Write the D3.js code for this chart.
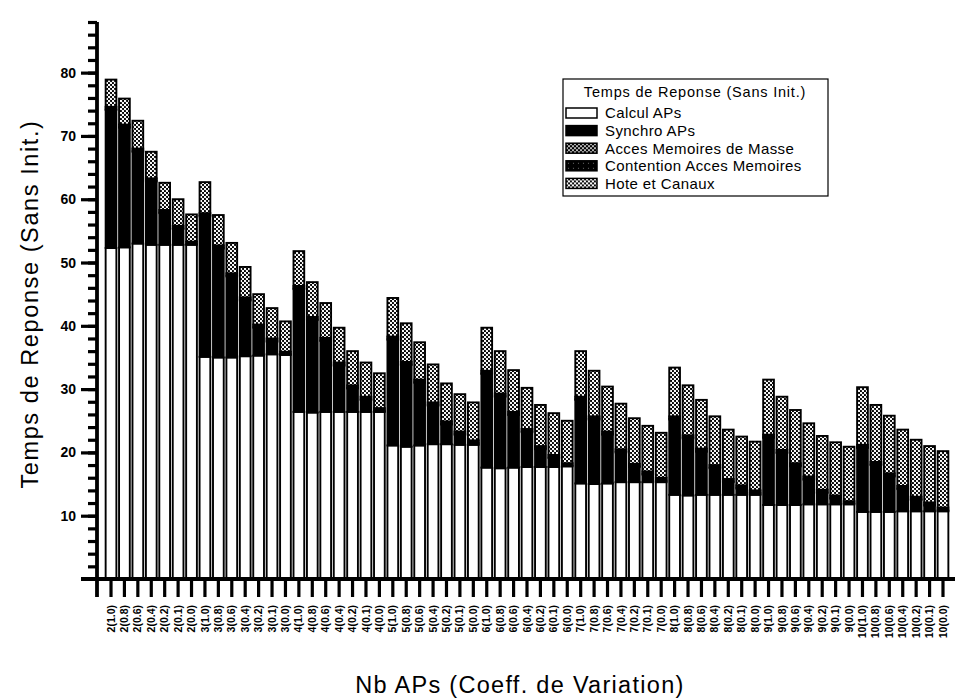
<!DOCTYPE html>
<html>
<head>
    <script src="https://d3js.org/d3.v7.min.js"></script>
    <style>
        body { margin: 0; background: #fff; }
        svg { font-family: "Liberation Sans", Arial, Helvetica, sans-serif; }
        .axis path, .axis line { stroke: #000; stroke-width: 3.2px; }
        .axis text { fill: #000; }
        .y-axis text { font-size: 14px; font-weight: bold; }
        .x-axis text { font-size: 10.5px; font-weight: bold; }
        .seg { stroke: #000; stroke-width: 1.9px; }
        .legend text { font-size: 15px; fill: #000; letter-spacing: 0.4px; }
        .title { font-size: 23.5px; fill: #000; letter-spacing: 1.3px; }
    </style>
</head>
<body>
    <svg width="958" height="700"></svg>
    <script>
        var nbAPs = [2, 3, 4, 5, 6, 7, 8, 9, 10];
        var coeffs = ["1.0", "0.8", "0.6", "0.4", "0.2", "0.1", "0.0"];

        var seriesNames = ["Calcul APs", "Synchro APs", "Acces Memoires de Masse",
                           "Contention Acces Memoires", "Hote et Canaux"];

        // one value per bar, 2(1.0) ... 10(0.0)
        var calcul = [
            52.3, 52.4, 53.0, 52.8, 52.8, 52.8, 52.8,
            35.1, 35.0, 35.0, 35.2, 35.3, 35.5, 35.4,
            26.4, 26.3, 26.4, 26.4, 26.4, 26.4, 26.4,
            21.1, 20.9, 21.1, 21.3, 21.3, 21.2, 21.2,
            17.6, 17.5, 17.6, 17.7, 17.7, 17.7, 17.8,
            15.1, 15.0, 15.1, 15.3, 15.3, 15.3, 15.3,
            13.3, 13.2, 13.3, 13.3, 13.3, 13.3, 13.3,
            11.7, 11.7, 11.7, 11.8, 11.8, 11.8, 11.8,
            10.6, 10.6, 10.6, 10.7, 10.7, 10.7, 10.7
        ];
        var synchro = [
            21.8, 18.9, 14.5, 10.0, 5.0, 2.5, 0.0,
            22.2, 17.2, 12.8, 8.8, 4.4, 2.0, 0.0,
            19.4, 14.6, 11.2, 7.3, 3.7, 1.9, 0.1,
            16.7, 12.9, 9.9, 6.1, 3.1, 1.6, 0.2,
            14.8, 11.3, 8.3, 5.5, 2.8, 1.4, 0.0,
            13.2, 10.2, 7.7, 4.7, 2.4, 1.2, 0.2,
            11.9, 9.0, 6.8, 4.2, 2.0, 1.0, 0.2,
            10.6, 8.2, 6.1, 3.9, 1.8, 0.9, 0.0,
            10.1, 7.4, 5.6, 3.5, 1.8, 0.9, 0.1
        ];
        var masse = [
            0.2, 0.2, 0.2, 0.2, 0.2, 0.2, 0.2,
            0.2, 0.2, 0.2, 0.2, 0.2, 0.2, 0.2,
            0.2, 0.2, 0.2, 0.2, 0.2, 0.2, 0.2,
            0.2, 0.2, 0.2, 0.2, 0.2, 0.2, 0.2,
            0.2, 0.2, 0.2, 0.2, 0.2, 0.2, 0.2,
            0.2, 0.2, 0.2, 0.2, 0.2, 0.2, 0.2,
            0.2, 0.2, 0.2, 0.2, 0.2, 0.2, 0.2,
            0.2, 0.2, 0.2, 0.2, 0.2, 0.2, 0.2,
            0.2, 0.2, 0.2, 0.2, 0.2, 0.2, 0.2
        ];
        var contention = [
            0.3, 0.3, 0.3, 0.3, 0.3, 0.3, 0.3,
            0.3, 0.3, 0.3, 0.3, 0.3, 0.3, 0.3,
            0.3, 0.3, 0.3, 0.3, 0.3, 0.3, 0.3,
            0.3, 0.3, 0.3, 0.3, 0.3, 0.3, 0.3,
            0.3, 0.3, 0.3, 0.3, 0.3, 0.3, 0.3,
            0.3, 0.3, 0.3, 0.3, 0.3, 0.3, 0.3,
            0.3, 0.3, 0.3, 0.3, 0.3, 0.3, 0.3,
            0.3, 0.3, 0.3, 0.3, 0.3, 0.3, 0.3,
            0.3, 0.3, 0.3, 0.3, 0.3, 0.3, 0.3
        ];
        var hote = [
            4.3, 4.1, 4.4, 4.2, 4.3, 4.2, 4.3,
            4.9, 4.8, 4.8, 4.8, 4.8, 4.8, 4.8,
            5.5, 5.5, 5.5, 5.5, 5.4, 5.4, 5.5,
            6.1, 6.1, 5.9, 6.0, 6.0, 5.9, 6.0,
            6.8, 6.7, 6.6, 6.5, 6.5, 6.6, 6.7,
            7.2, 7.2, 7.1, 7.2, 7.2, 7.2, 7.1,
            7.7, 7.9, 7.7, 7.7, 7.8, 7.7, 7.7,
            8.7, 8.4, 8.4, 8.4, 8.5, 8.4, 8.6,
            9.1, 9.0, 9.1, 8.9, 9.0, 8.9, 8.9
        ];

        var svg = d3.select("svg");

        // fill patterns, roughly like the printed hatches
        var defs = svg.append("defs");
        var pm = defs.append("pattern").attr("id", "pMasse")
            .attr("width", 4).attr("height", 4).attr("patternUnits", "userSpaceOnUse");
        pm.append("rect").attr("width", 4).attr("height", 4).attr("fill", "#000");
        pm.append("circle").attr("cx", 1).attr("cy", 1).attr("r", 0.95).attr("fill", "#fff");
        pm.append("circle").attr("cx", 3).attr("cy", 3).attr("r", 0.95).attr("fill", "#fff");

        var pc = defs.append("pattern").attr("id", "pCont")
            .attr("width", 5).attr("height", 5).attr("patternUnits", "userSpaceOnUse");
        pc.append("rect").attr("width", 5).attr("height", 5).attr("fill", "#000");
        pc.append("circle").attr("cx", 2.5).attr("cy", 2.5).attr("r", 0.6).attr("fill", "#777");

        var ph = defs.append("pattern").attr("id", "pHote")
            .attr("width", 4).attr("height", 4).attr("patternUnits", "userSpaceOnUse");
        ph.append("rect").attr("width", 4).attr("height", 4).attr("fill", "#000");
        ph.append("circle").attr("cx", 1).attr("cy", 1).attr("r", 1.2).attr("fill", "#fff");
        ph.append("circle").attr("cx", 3).attr("cy", 3).attr("r", 1.2).attr("fill", "#fff");

        var fills = ["#fff", "#000", "url(#pMasse)", "url(#pCont)", "url(#pHote)"];

        var categories = [];
        nbAPs.forEach(function(n) {
            coeffs.forEach(function(c) { categories.push(n + "(" + c + ")"); });
        });

        var table = categories.map(function(cat, i) {
            return { cat: cat, s0: calcul[i], s1: synchro[i], s2: masse[i], s3: contention[i], s4: hote[i] };
        });

        var stack = d3.stack().keys(["s0", "s1", "s2", "s3", "s4"]);
        var layers = stack(table);

        var x = d3.scaleBand()
            .domain(categories)
            .range([104.3, 949.7])
            .paddingInner(0.2)
            .paddingOuter(0.1);

        var y = d3.scaleLinear()
            .domain([0, 88])
            .range([579, 22]);

        // bars
        var layer = svg.append("g").selectAll("g")
            .data(layers)
            .enter().append("g")
            .attr("fill", function(d, i) { return fills[i]; });

        layer.selectAll("rect")
            .data(function(d) { return d.filter(function(p) { return p[1] - p[0] > 0; }); })
            .enter().append("rect")
            .attr("class", "seg")
            .attr("x", function(d) { return x(d.data.cat); })
            .attr("width", x.bandwidth())
            .attr("y", function(d) { return y(d[1]); })
            .attr("height", function(d) { return y(d[0]) - y(d[1]); });

        // y axis: minor ticks every 2, major every 10
        svg.append("g")
            .attr("class", "axis y-axis")
            .attr("transform", "translate(97,0)")
            .call(d3.axisLeft(y).tickValues(d3.range(2, 89, 2)).tickSize(9).tickFormat(""))
            .select(".domain").remove();

        svg.append("g")
            .attr("class", "axis y-axis")
            .attr("transform", "translate(97,0)")
            .call(d3.axisLeft(y).tickValues([10, 20, 30, 40, 50, 60, 70, 80]).tickSize(16).tickPadding(5))
            .select(".domain").remove();

        svg.append("line")
            .attr("x1", 97).attr("x2", 97)
            .attr("y1", y(88)).attr("y2", 597)
            .attr("stroke", "#000").attr("stroke-width", 3.8);

        // x axis
        var xAxis = svg.append("g")
            .attr("class", "axis x-axis")
            .attr("transform", "translate(0,579)")
            .call(d3.axisBottom(x).tickSize(18).tickSizeOuter(0));
        xAxis.select(".domain").remove();
        xAxis.selectAll("text")
            .attr("transform", "rotate(-90)")
            .attr("x", -26)
            .attr("y", 0)
            .attr("dy", "0.34em")
            .style("text-anchor", "end");

        svg.append("line")
            .attr("x1", 81).attr("x2", 955)
            .attr("y1", 579).attr("y2", 579)
            .attr("stroke", "#000").attr("stroke-width", 3.8);

        // axis titles
        svg.append("text")
            .attr("class", "title")
            .attr("transform", "translate(38,304) rotate(-90)")
            .attr("text-anchor", "middle")
            .style("letter-spacing", "1.6px")
            .text("Temps de Reponse (Sans Init.)");

        svg.append("text")
            .attr("class", "title")
            .attr("x", 520)
            .attr("y", 693)
            .attr("text-anchor", "middle")
            .text("Nb APs (Coeff. de Variation)");

        // legend
        var legend = svg.append("g").attr("class", "legend");
        legend.append("rect")
            .attr("x", 563).attr("y", 79)
            .attr("width", 265).attr("height", 117)
            .attr("fill", "#fff").attr("stroke", "#000").attr("stroke-width", 1.2);
        legend.append("text")
            .attr("x", 695).attr("y", 97)
            .attr("text-anchor", "middle")
            .style("font-size", "14.5px")
            .style("letter-spacing", "0.8px")
            .text("Temps de Reponse (Sans Init.)");

        var items = legend.selectAll(".item")
            .data(seriesNames)
            .enter().append("g")
            .attr("class", "item")
            .attr("transform", function(d, i) { return "translate(566," + (108 + i * 17.6) + ")"; });

        items.append("rect")
            .attr("width", 31).attr("height", 10)
            .attr("fill", function(d, i) { return fills[i]; })
            .attr("stroke", "#000").attr("stroke-width", 1.5);

        items.append("text")
            .attr("x", 39).attr("y", 5)
            .attr("dy", "0.36em")
            .text(function(d) { return d; });
    </script>
</body>
</html>
